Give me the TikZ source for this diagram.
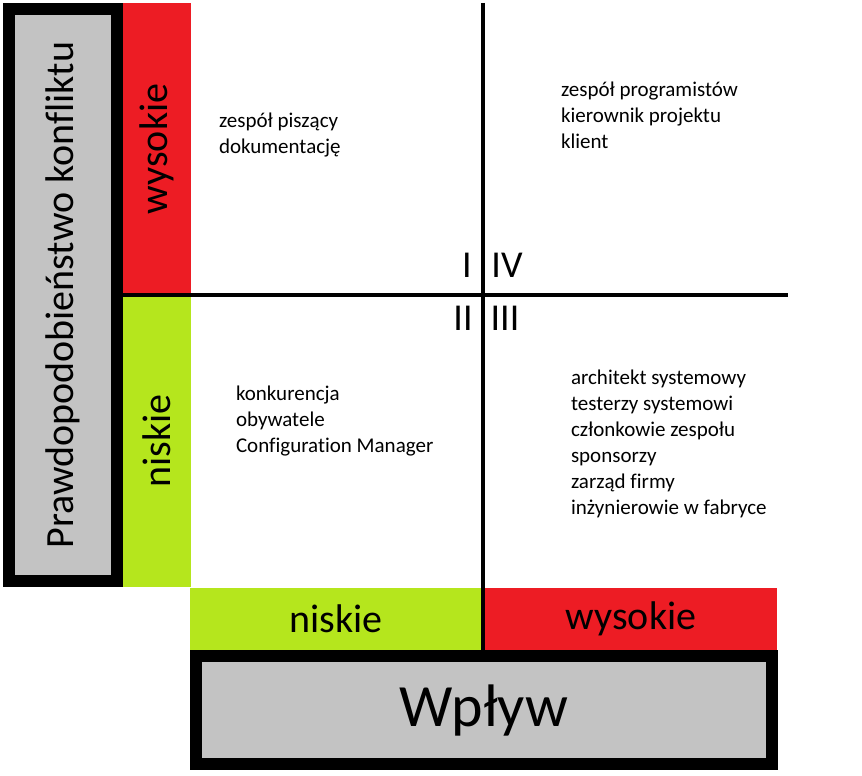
\documentclass[tikz,border=0pt]{standalone}
\usepackage{fontspec}
\setmainfont[Ligatures=NoCommon]{Carlito}
\usetikzlibrary{positioning}
\definecolor{hired}{RGB}{237,28,36}
\definecolor{logreen}{RGB}{181,230,29}
\definecolor{boxgray}{RGB}{195,195,195}

\begin{document}
\begin{tikzpicture}[
  x=1pt, y=-1pt,
  every node/.style={inner sep=0pt, outer sep=0pt},
  titlebox/.style={rectangle, draw=black, line width=12pt, fill=boxgray},
  band/.style={rectangle, font=\fontsize{40}{48}\selectfont},
  axis/.style={draw=black, line width=4pt},
  quadnum/.style={anchor=base, font=\fontsize{38}{46}\selectfont},
  group/.style={anchor=north west, align=left, font=\fontsize{21}{26}\selectfont}
]

\useasboundingbox (0,0) rectangle (862,776);

\node[titlebox, rotate=90, minimum width=572pt, minimum height=108pt, font=\fontsize{40}{48}\selectfont] (prob) at (63,295) {Prawdopodobieństwo konfliktu};
\node[titlebox, minimum width=576pt, minimum height=108pt, font=\fontsize{60}{72}\selectfont] (impact) at (484,710) {Wpływ};

\node[band, fill=hired, rotate=90, minimum width=292pt, minimum height=68pt] (probhigh) at (157,149) {wysokie};
\node[band, fill=logreen, rotate=90, minimum width=292pt, minimum height=68pt] (problow) at (157,441) {niskie};
\node[band, fill=logreen, minimum width=292pt, minimum height=62pt] (implow) at (336,619) {niskie};
\node[band, fill=hired, minimum width=292pt, minimum height=62pt] (imphigh) at (631,619) {wysokie};

\coordinate (vtop) at (483,3);
\coordinate (vbot) at (483,650);
\coordinate (hleft) at (123,295);
\coordinate (hright) at (788,295);
\draw[axis] (vtop) -- (vbot);
\draw[axis] (hleft) -- (hright);

\node[quadnum] (qone) at (467,277) {I};
\node[quadnum] (qfour) at (507,277) {IV};
\node[quadnum] (qtwo) at (463,330) {II};
\node[quadnum] (qthree) at (505,330) {III};

\node[group] (docteam) at (219,113) {zespół piszący\\dokumentację};
\node[group] (devteam) at (561,82) {zespół programistów\\kierownik projektu\\klient};
\node[group] (outside) at (236,386) {konkurencja\\obywatele\\Configuration Manager};
\node[group] (insiders) at (571,370) {architekt systemowy\\testerzy systemowi\\członkowie zespołu\\sponsorzy\\zarząd firmy\\inżynierowie w fabryce};

\end{tikzpicture}
\end{document}
